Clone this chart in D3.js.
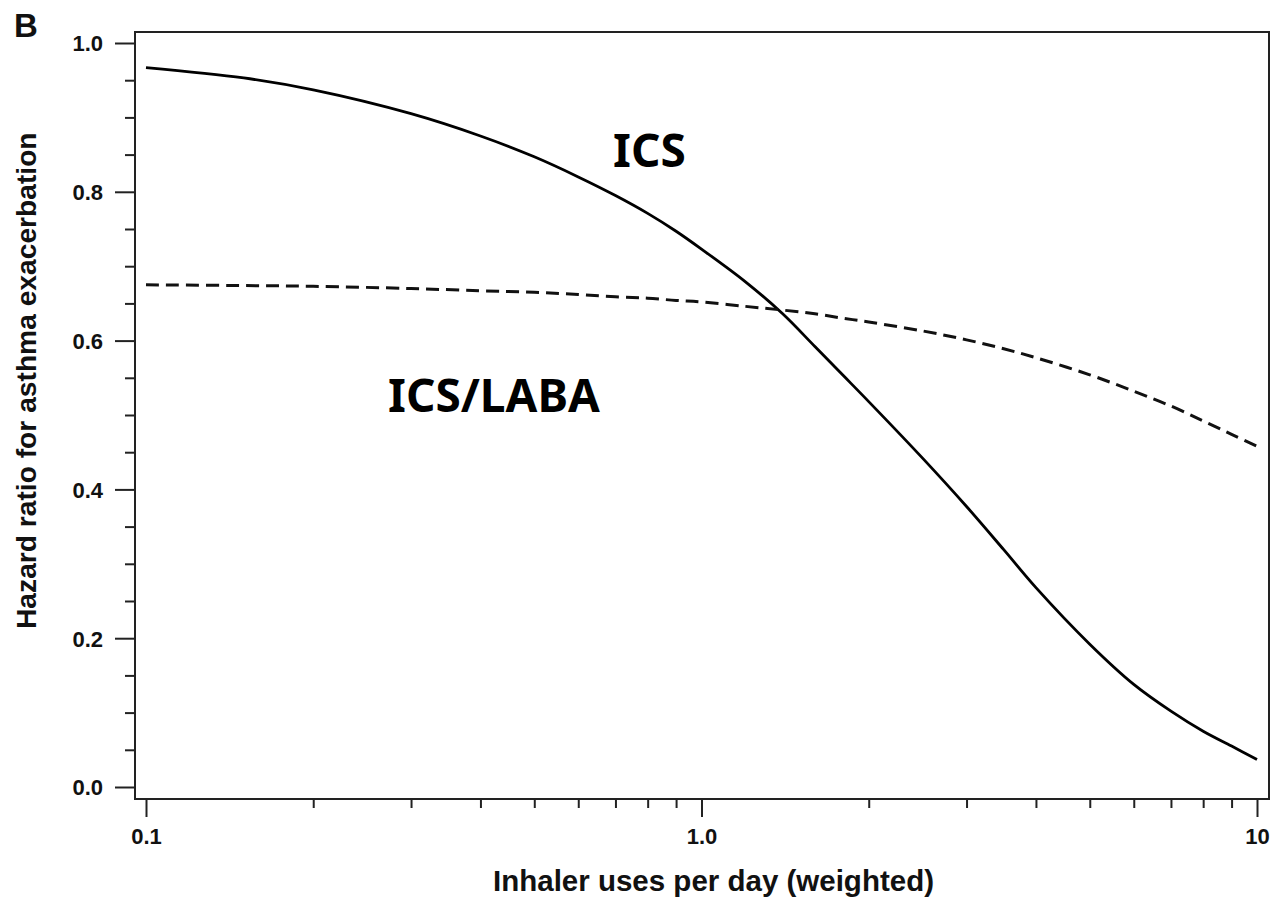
<!DOCTYPE html>
<html>
<head>
<meta charset="utf-8">
<script src="https://cdn.jsdelivr.net/npm/d3@7/dist/d3.min.js"></script>
<style>
  html, body { margin: 0; padding: 0; background: #fff; }
  svg { display: block; }
  .tick-label { font-family: "Liberation Sans", Arial, Helvetica, sans-serif; font-weight: bold; font-size: 22px; fill: #111; }
  .axis-title { font-family: "Liberation Sans", Arial, Helvetica, sans-serif; font-weight: bold; font-size: 29.5px; fill: #111; }
  .y-title { font-size: 28.2px; }
  .series-label { font-family: "Noto Sans", "Noto Sans CJK KR", sans-serif; font-weight: bold; font-size: 46px; fill: #000; }
</style>
</head>
<body>
<svg id="chart" width="1272" height="898"></svg>
<script>
// ---- data ----
const usesPerDay = [0.1, 0.15, 0.2, 0.3, 0.4, 0.5, 0.6, 0.7, 0.8, 0.9, 1.0, 1.2, 1.4, 1.6, 1.8, 2.0, 2.5, 3.0, 3.5, 4.0, 5.0, 6.0, 7.0, 8.0, 9.0, 10.0];
const icsHR     = [0.967, 0.953, 0.937, 0.905, 0.875, 0.847, 0.820, 0.795, 0.771, 0.747, 0.723, 0.679, 0.636, 0.592, 0.553, 0.518, 0.442, 0.377, 0.319, 0.268, 0.192, 0.138, 0.102, 0.075, 0.055, 0.037];
const icsLabaHR = [0.675, 0.674, 0.673, 0.670, 0.667, 0.665, 0.662, 0.659, 0.657, 0.654, 0.652, 0.646, 0.641, 0.636, 0.630, 0.625, 0.613, 0.601, 0.589, 0.577, 0.554, 0.532, 0.512, 0.492, 0.474, 0.458];
const xMajorTicks = [0.1, 1, 10];
const xMajorLabels = ["0.1", "1.0", "10"];
const xMinorTicks = [0.2, 0.3, 0.4, 0.5, 0.6, 0.7, 0.8, 0.9, 2, 3, 4, 5, 6, 7, 8, 9];
const yMajorTicks = [0, 0.2, 0.4, 0.6, 0.8, 1.0];
const yMinorTicks = [0.05, 0.1, 0.15, 0.25, 0.3, 0.35, 0.45, 0.5, 0.55, 0.65, 0.7, 0.75, 0.85, 0.9, 0.95];
const seriesLabels = ["ICS", "ICS/LABA"];
const panelLabel = "B";
const xTitle = "Inhaler uses per day (weighted)";
const yTitle = "Hazard ratio for asthma exacerbation";

// ---- layout ----
const box = { left: 135, right: 1269, top: 32, bottom: 799 };
const svg = d3.select("#chart");

const x = d3.scaleLog().domain([0.1, 10]).range([146, 1257]);
const y = d3.scaleLinear().domain([0, 1]).range([787, 43]);

// frame
svg.append("rect")
  .attr("x", box.left).attr("y", box.top)
  .attr("width", box.right - box.left).attr("height", box.bottom - box.top)
  .attr("fill", "none").attr("stroke", "#222").attr("stroke-width", 2);

// y axis
const yAxisMajor = d3.axisLeft(y).tickValues(yMajorTicks).tickSize(20).tickPadding(12)
  .tickFormat(d3.format(".1f"));
const gy = svg.append("g").attr("transform", `translate(${box.left},0)`).call(yAxisMajor);
gy.select(".domain").remove();
gy.selectAll(".tick line").attr("stroke", "#222").attr("stroke-width", 2);
gy.selectAll(".tick text").attr("class", "tick-label").attr("dy", "0.36em");

const yAxisMinor = d3.axisLeft(y).tickValues(yMinorTicks).tickSize(10).tickFormat("");
const gym = svg.append("g").attr("transform", `translate(${box.left},0)`).call(yAxisMinor);
gym.select(".domain").remove();
gym.selectAll(".tick line").attr("stroke", "#222").attr("stroke-width", 2);

// x axis
const xAxisMajor = d3.axisBottom(x).tickValues(xMajorTicks).tickSize(18).tickPadding(11)
  .tickFormat((d, i) => xMajorLabels[i]);
const gx = svg.append("g").attr("transform", `translate(0,${box.bottom})`).call(xAxisMajor);
gx.select(".domain").remove();
gx.selectAll(".tick line").attr("stroke", "#222").attr("stroke-width", 2);
gx.selectAll(".tick text").attr("class", "tick-label");

const xAxisMinor = d3.axisBottom(x).tickValues(xMinorTicks).tickSize(9).tickFormat("");
const gxm = svg.append("g").attr("transform", `translate(0,${box.bottom})`).call(xAxisMinor);
gxm.select(".domain").remove();
gxm.selectAll(".tick line").attr("stroke", "#222").attr("stroke-width", 2);

// lines
const line = (vals) => d3.line()
  .x((d, i) => x(usesPerDay[i]))
  .y(d => y(d))
  .curve(d3.curveCatmullRom.alpha(0.5))(vals);

svg.append("path").attr("d", line(icsHR))
  .attr("fill", "none").attr("stroke", "#000").attr("stroke-width", 2.8);
svg.append("path").attr("d", line(icsLabaHR))
  .attr("fill", "none").attr("stroke", "#111").attr("stroke-width", 3)
  .attr("stroke-dasharray", "13,7");

// series labels
svg.append("text").attr("class", "series-label").attr("x", 613).attr("y", 167).text(seriesLabels[0]);
svg.append("text").attr("class", "series-label").attr("x", 388).attr("y", 412).text(seriesLabels[1]);

// titles
svg.append("text").attr("class", "axis-title")
  .attr("x", 493).attr("y", 891).attr("text-anchor", "start").text(xTitle);
svg.append("text").attr("class", "axis-title y-title")
  .attr("transform", "translate(36,629) rotate(-90)")
  .attr("text-anchor", "start").text(yTitle);

// panel label
svg.append("text").attr("x", 14).attr("y", 37)
  .attr("font-family", "Liberation Sans, Arial, sans-serif").attr("font-weight", "bold")
  .attr("font-size", 33).attr("fill", "#111").text(panelLabel);
</script>
</body>
</html>
